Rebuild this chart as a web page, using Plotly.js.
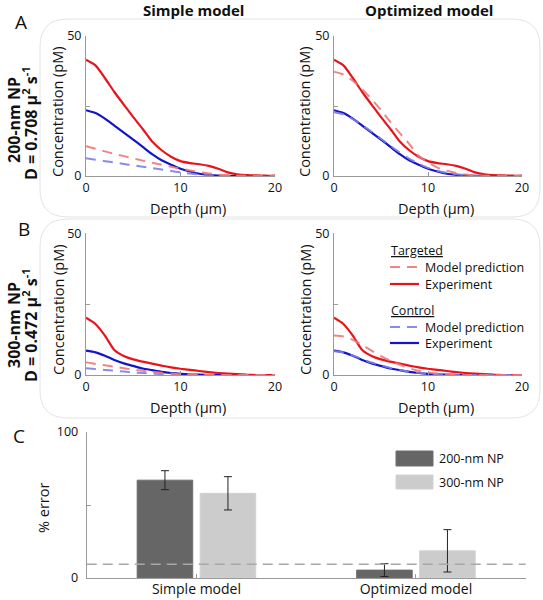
<!DOCTYPE html>
<html>
<head>
<meta charset="utf-8">
<script src="https://cdn.plot.ly/plotly-3.0.1.min.js"></script>
<style>html,body{margin:0;padding:0;background:#fff;}#chart{width:543px;height:600px;}</style>
</head>
<body>
<div id="chart"></div>
<script>
// ---------- data ----------
const depth = [0,1,2,3,4,5,6,7,8,9,10,11,12,13,14,15,16,17,18,19,20];

// 200-nm NP (panel A)
const expTargeted200 = [41.5,39.5,35,30,25.5,21,16.8,12.3,9.2,6.9,5.3,4.6,4.2,3.6,2.6,1.3,0.6,0.3,0.2,0.1,0.1];
const expControl200  = [23.5,22.5,20.5,18,15.5,13,10.4,7.8,5.6,4,2.6,1.6,0.8,0.4,0.15,0.05,0];
const simpleTargeted200 = [10.6,9.7,8.8,7.9,7.1,6.3,5.5,4.7,4.0,3.3,2.6,2.0,1.4,0.9,0.5,0.25,0.1,0.05,0,0,0];
const simpleControl200  = [6.3,5.8,5.3,4.8,4.3,3.8,3.3,2.8,2.3,1.8,1.3,0.9,0.5,0.25,0.1,0,0];
const optTargeted200 = [37.2,36.2,34,31,27.5,23.5,19.3,15.3,11.5,7.2,4.8,3.0,1.9,1.1,0.5,0.2,0.1,0,0,0,0];
const optControl200  = [22.8,22,20.3,18.2,15.8,13.3,10.8,8.4,6.2,4.4,2.9,1.9,1.1,0.6,0.3,0.1,0];

// 300-nm NP (panel B)
const expTargeted300 = [20.2,18,13.9,8.8,6.7,5.5,4.7,4.0,3.3,2.7,2.2,1.8,1.4,1.0,0.7,0.5,0.3,0.1,0,0,0];
const expControl300  = [8.6,8,6.8,5.3,4.1,3.2,2.3,1.7,1.1,0.7,0.4,0.2,0.1,0,0,0,0,0,0,0,0];
const simpleTargeted300 = [4.5,3.9,3.4,2.9,2.4,1.9,1.5,1.1,0.8,0.5,0.3,0.2,0.1,0,0,0,0,0,0,0,0];
const simpleControl300  = [2.4,2.1,1.8,1.5,1.2,0.9,0.7,0.5,0.3,0.2,0.1,0.05,0,0,0,0,0,0,0,0,0];
const optTargeted300 = [13.9,13.6,12.4,10.6,8.6,6.7,5,3.6,2.4,1.5,0.9,0.5,0.2,0.1,0,0,0,0,0,0,0];
const optControl300  = [8.4,8,6.9,5.6,4.4,3.4,2.5,1.8,1.2,0.8,0.5,0.3,0.15,0.05,0,0,0,0,0,0,0];

// panel C
const models = ['Simple model','Optimized model'];
const error200 = [67, 5.4];
const error200sd = [6.5, 4.4];
const error300 = [58, 18.6];
const error300sd = [11.4, 14.5];
const errorThreshold = 9.5;

// ---------- helpers ----------
const W = 543, H = 600;
const px = x => x / W;
const py = y => 1 - y / H;
const FONT = 'Open Sans, Noto Sans, sans-serif';
const RED = '#e8141a', BLUE = '#1414cc', PINK = 'rgba(238,120,120,0.9)', LBLUE = 'rgba(125,125,228,0.9)';

function line(x, y, xa, ya, color, dashed) {
  return {
    type: 'scatter', mode: 'lines',
    x: x.slice(0, y.length), y: y,
    xaxis: xa, yaxis: ya,
    line: {color: color, width: dashed ? 2 : 2.2, dash: dashed ? '10px,7px' : 'solid', shape: 'spline', smoothing: 0.6},
    hoverinfo: 'skip', showlegend: false
  };
}

const traces = [];
function panel(xa, ya, expT, expC, modT, modC) {
  traces.push(line(depth, expC, xa, ya, BLUE, false));
  traces.push(line(depth, expT, xa, ya, RED, false));
  traces.push(line(depth, modC, xa, ya, LBLUE, true));
  traces.push(line(depth, modT, xa, ya, PINK, true));
}
panel('x', 'y', expTargeted200, expControl200, simpleTargeted200, simpleControl200);
panel('x2', 'y2', expTargeted200, expControl200, optTargeted200, optControl200);
panel('x3', 'y3', expTargeted300, expControl300, simpleTargeted300, simpleControl300);
panel('x4', 'y4', expTargeted300, expControl300, optTargeted300, optControl300);

traces.push({
  type: 'bar', x: models, y: error200, name: '200-nm NP',
  xaxis: 'x5', yaxis: 'y5',
  marker: {color: '#666666', line: {color: '#6e6e6e', width: 1}},
  error_y: {type: 'data', array: error200sd, visible: true, color: '#222', thickness: 1, width: 4},
  hoverinfo: 'skip', showlegend: false
});
traces.push({
  type: 'bar', x: models, y: error300, name: '300-nm NP',
  xaxis: 'x5', yaxis: 'y5',
  marker: {color: '#cccccc', line: {color: '#d2d2d2', width: 1}},
  error_y: {type: 'data', array: error300sd, visible: true, color: '#222', thickness: 1, width: 4},
  hoverinfo: 'skip', showlegend: false
});

const axisBase = {
  showline: true, linecolor: '#9a9a9a', linewidth: 1,
  ticks: 'inside', ticklen: 4, tickcolor: '#9a9a9a',
  showgrid: false, zeroline: false, fixedrange: true,
  tickfont: {family: FONT, size: 12.5, color: '#111'}
};
function xax(x0, x1, anchor) {
  return Object.assign({}, axisBase, {domain: [px(x0), px(x1)], range: [0, 20], tickvals: [0,10,20], anchor: anchor});
}
function yax(y0, y1, anchor) {
  return Object.assign({}, axisBase, {domain: [py(y1), py(y0)], range: [0, 50], tickvals: [0,50], anchor: anchor, ticklabelstandoff: 1,
    minor: {tickvals: [25], ticks: 'inside', ticklen: 4, tickcolor: '#9a9a9a', showgrid: false}});
}

const L0 = 86, L1 = 275, R0 = 334, R1 = 522;
const A0 = 36, A1 = 176, B0 = 233.3, B1 = 375;

function rrect(x0, y0, x1, y1, r) {
  return `M${px(x0+r)},${py(y0)} L${px(x1-r)},${py(y0)} Q${px(x1)},${py(y0)} ${px(x1)},${py(y0+r)} ` +
         `L${px(x1)},${py(y1-r)} Q${px(x1)},${py(y1)} ${px(x1-r)},${py(y1)} ` +
         `L${px(x0+r)},${py(y1)} Q${px(x0)},${py(y1)} ${px(x0)},${py(y1-r)} ` +
         `L${px(x0)},${py(y0+r)} Q${px(x0)},${py(y0)} ${px(x0+r)},${py(y0)} Z`;
}

const shapes = [
  {type: 'path', xref: 'paper', yref: 'paper', path: rrect(40, 19, 540, 217, 28), line: {color: '#e4e4e4', width: 1}, layer: 'below'},
  {type: 'path', xref: 'paper', yref: 'paper', path: rrect(40, 219, 540, 418, 28), line: {color: '#e4e4e4', width: 1}, layer: 'below'},
  // legend samples (panel B right)
  {type: 'line', xref: 'paper', yref: 'paper', x0: px(390), x1: px(419), y0: py(267), y1: py(267), line: {color: PINK, width: 2, dash: '10px,7px'}},
  {type: 'line', xref: 'paper', yref: 'paper', x0: px(390), x1: px(419), y0: py(284), y1: py(284), line: {color: RED, width: 2.2}},
  {type: 'line', xref: 'paper', yref: 'paper', x0: px(390), x1: px(419), y0: py(327), y1: py(327), line: {color: LBLUE, width: 2, dash: '10px,7px'}},
  {type: 'line', xref: 'paper', yref: 'paper', x0: px(390), x1: px(419), y0: py(343), y1: py(343), line: {color: BLUE, width: 2.2}},
  // bar legend swatches
  {type: 'rect', xref: 'paper', yref: 'paper', x0: px(396), x1: px(433), y0: py(451), y1: py(466), fillcolor: '#666666', line: {color: '#6e6e6e', width: 1}},
  {type: 'rect', xref: 'paper', yref: 'paper', x0: px(396), x1: px(433), y0: py(475), y1: py(489), fillcolor: '#cccccc', line: {color: '#d2d2d2', width: 1}},
  // error threshold line
  {type: 'line', xref: 'x5 domain', yref: 'y5', x0: 0, x1: 1, y0: errorThreshold, y1: errorThreshold, line: {color: '#a8a8a8', width: 1.5, dash: '10px,6px'}, layer: 'above'}
];

function ann(text, x, y, opts) {
  return Object.assign({
    text: text, xref: 'paper', yref: 'paper', x: px(x), y: py(y),
    showarrow: false, xanchor: 'center', yanchor: 'middle',
    font: {family: FONT, size: 14.5, color: '#111'}
  }, opts || {});
}
const regF = s => ({family: FONT, size: s, color: '#111'});

const annotations = [
  ann('<b>Simple model</b>', 193, 10, {font: regF(15)}),
  ann('<b>Optimized model</b>', 429, 10, {font: regF(15)}),
  ann('A', 21, 22, {font: regF(19)}),
  ann('B', 24, 229, {font: regF(19)}),
  ann('C', 19, 436, {font: regF(19)}),
  ann('<b>200-nm NP</b>', 14, 120, {textangle: -90, font: regF(16)}),
  ann('<b>D = 0.708 µ<sup>2</sup> s<sup>-1</sup></b>', 30, 123, {textangle: -90, font: regF(16)}),
  ann('<b>300-nm NP</b>', 14, 325, {textangle: -90, font: regF(16)}),
  ann('<b>D = 0.472 µ<sup>2</sup> s<sup>-1</sup></b>', 30, 325, {textangle: -90, font: regF(16)}),
  ann('Concentration (pM)', 58, 112, {textangle: -90}),
  ann('Concentration (pM)', 305, 112, {textangle: -90}),
  ann('Concentration (pM)', 58, 310, {textangle: -90}),
  ann('Concentration (pM)', 305, 310, {textangle: -90}),
  ann('Depth (µm)', 188, 208),
  ann('Depth (µm)', 436, 208),
  ann('Depth (µm)', 188, 407),
  ann('Depth (µm)', 436, 407),
  ann('% error', 43, 508, {textangle: -90}),
  // legend texts
  ann('<u>Targeted</u>', 389, 250, {xanchor: 'left', font: regF(12.5)}),
  ann('Model prediction', 423, 267, {xanchor: 'left', font: regF(12.5)}),
  ann('Experiment', 423, 284, {xanchor: 'left', font: regF(12.5)}),
  ann('<u>Control</u>', 389, 310, {xanchor: 'left', font: regF(12.5)}),
  ann('Model prediction', 423, 327, {xanchor: 'left', font: regF(12.5)}),
  ann('Experiment', 423, 343, {xanchor: 'left', font: regF(12.5)}),
  ann('200-nm NP', 437, 458, {xanchor: 'left', font: regF(12.5)}),
  ann('300-nm NP', 437, 482, {xanchor: 'left', font: regF(12.5)})
];

const layout = {
  width: W, height: H,
  margin: {l: 0, r: 0, t: 0, b: 0},
  paper_bgcolor: '#ffffff', plot_bgcolor: 'rgba(0,0,0,0)',
  showlegend: false,
  font: {family: FONT, color: '#111'},
  xaxis:  xax(L0, L1, 'y'),
  yaxis:  yax(A0, A1, 'x'),
  xaxis2: xax(R0, R1, 'y2'),
  yaxis2: yax(A0, A1, 'x2'),
  xaxis3: xax(L0, L1, 'y3'),
  yaxis3: yax(B0, B1, 'x3'),
  xaxis4: xax(R0, R1, 'y4'),
  yaxis4: yax(B0, B1, 'x4'),
  xaxis5: Object.assign({}, axisBase, {domain: [px(86.7), px(525.7)], type: 'category', range: [-0.5, 1.5], anchor: 'y5',
    ticklabelstandoff: -2, tickfont: {family: FONT, size: 14, color: '#111'}}),
  yaxis5: Object.assign({}, axisBase, {domain: [py(578), py(432)], range: [0, 100], tickvals: [0,100], anchor: 'x5', ticklabelstandoff: 5,
    minor: {tickvals: [50], ticks: 'inside', ticklen: 4, tickcolor: '#9a9a9a', showgrid: false}}),
  barmode: 'group', bargap: 0.426, bargroupgap: 0.118,
  shapes: shapes,
  annotations: annotations
};

Plotly.newPlot('chart', traces, layout, {staticPlot: true, displayModeBar: false});
</script>
</body>
</html>
